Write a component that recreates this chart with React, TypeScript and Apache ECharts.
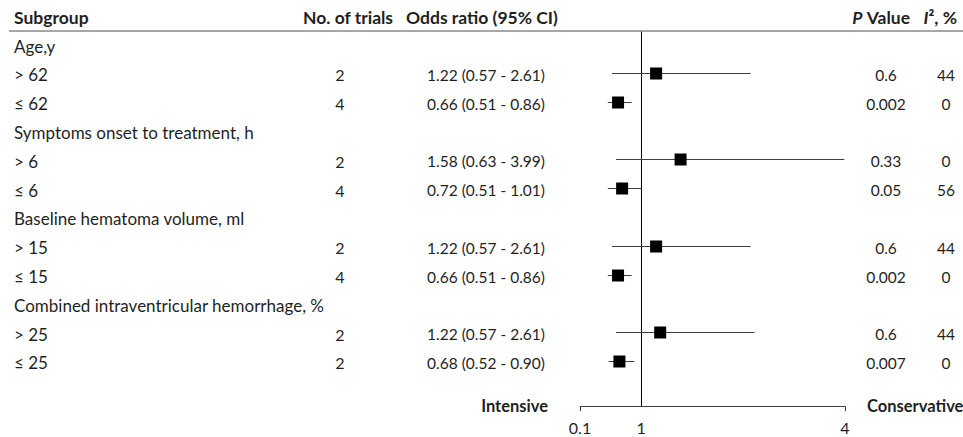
import React, { useEffect, useRef } from "react";
import * as echarts from "echarts";

// ---- data ----
const subgroups = [
  "Age,y",
  "> 62",
  "≤ 62",
  "Symptoms onset to treatment, h",
  "> 6",
  "≤ 6",
  "Baseline hematoma volume, ml",
  "> 15",
  "≤ 15",
  "Combined intraventricular hemorrhage, %",
  "> 25",
  "≤ 25",
];
const trials = ["", "2", "4", "", "2", "4", "", "2", "4", "", "2", "2"];
const ciText = [
  "",
  "1.22 (0.57 - 2.61)",
  "0.66 (0.51 - 0.86)",
  "",
  "1.58 (0.63 - 3.99)",
  "0.72 (0.51 - 1.01)",
  "",
  "1.22 (0.57 - 2.61)",
  "0.66 (0.51 - 0.86)",
  "",
  "1.22 (0.57 - 2.61)",
  "0.68 (0.52 - 0.90)",
];
const pValues = ["", "0.6", "0.002", "", "0.33", "0.05", "", "0.6", "0.002", "", "0.6", "0.007"];
const i2Values = ["", "44", "0", "", "0", "56", "", "44", "0", "", "44", "0"];
// plotted marks (as drawn in the figure)
const orPlot = [null, 1.22, 0.66, null, 1.58, 0.72, null, 1.22, 0.66, null, 1.28, 0.68];
const loPlot = [null, 0.57, 0.51, null, 0.63, 0.51, null, 0.57, 0.51, null, 0.63, 0.52];
const hiPlot = [null, 2.61, 0.86, null, 3.99, 1.01, null, 2.61, 0.86, null, 2.67, 0.9];
const axisLabels = [0.1, 1, 4];
const axisTickValues = [0.1, 4];
const nullValue = 1;

// ---- layout ----
const W = 963;
const H = 437;
const FONT = "Lato";
const TXT = "#1f1f1f";
const GRID_TOP = 31.6;
const GRID_BOTTOM = H - 406.2;
const PLOT_LEFT = 580;
const PLOT_WIDTH = 265;

const columns = [
  { key: "sub", x: 14, align: "left", size: 17, values: subgroups },
  { key: "trials", x: 340, align: "center", size: 16, values: trials },
  { key: "ci", x: 486, align: "center", size: 15.5, values: ciText },
  { key: "p", x: 886, align: "center", size: 15.5, values: pValues },
  { key: "i2", x: 946, align: "center", size: 15.5, values: i2Values },
];

export default function App() {
  const ref = useRef<HTMLDivElement>(null);

  useEffect(() => {
    document.body.style.margin = "0";
    const chart = echarts.init(ref.current!, undefined, { renderer: "svg" });
    const cats = [...subgroups.map((_, i) => String(i)), "axis"];

    const forestData: number[][] = [];
    orPlot.forEach((v, i) => {
      if (v != null) forestData.push([loPlot[i] as number, hiPlot[i] as number, v, i]);
    });

    const textSeries = columns.map((col) => {
      const data: number[][] = [];
      col.values.forEach((t, i) => {
        if (t !== "") data.push([col.x, i]);
      });
      return {
        type: "custom",
        name: col.key,
        xAxisIndex: 0,
        yAxisIndex: 0,
        silent: true,
        data,
        encode: { x: 0, y: 1 },
        renderItem: (params: any, api: any) => {
          const row = api.value(1) as number;
          const p = api.coord([api.value(0), row]);
          return {
            type: "text",
            x: p[0],
            y: p[1],
            style: {
              text: col.values[row],
              fill: TXT,
              font: `${col.size}px ${FONT}`,
              align: col.align,
              verticalAlign: "middle",
            },
          };
        },
      };
    });

    const boldHeader = (text: string, x: number, align: string, size: number, y = 17) => ({
      type: "text",
      x,
      y,
      style: {
        text,
        fill: TXT,
        font: `bold ${size}px ${FONT}`,
        align,
        verticalAlign: "middle",
        rich: { i: { fontStyle: "italic", fontWeight: "bold", fontSize: size, fontFamily: FONT, fill: TXT } },
      },
    });

    const option: any = {
      animation: false,
      textStyle: { fontFamily: FONT },
      grid: [
        { left: 0, width: W, top: GRID_TOP, bottom: GRID_BOTTOM },
        { left: PLOT_LEFT, width: PLOT_WIDTH, top: GRID_TOP, bottom: GRID_BOTTOM },
      ],
      xAxis: [
        { type: "value", gridIndex: 0, min: 0, max: W, show: false },
        {
          type: "value",
          gridIndex: 1,
          min: 0.1,
          max: 4,
          axisLine: { show: true, onZero: false, lineStyle: { color: "#404040", width: 1 } },
          axisTick: {
            show: true,
            inside: false,
            length: 5,
            customValues: axisTickValues,
            lineStyle: { color: "#404040" },
          },
          axisLabel: {
            show: true,
            customValues: axisLabels,
            formatter: (v: number) => String(v),
            margin: 13,
            color: TXT,
            fontSize: 16,
            fontFamily: FONT,
          },
          splitLine: { show: false },
        },
      ],
      yAxis: [
        { type: "category", gridIndex: 0, data: cats, inverse: true, show: false },
        { type: "category", gridIndex: 1, data: cats, inverse: true, show: false },
      ],
      series: [
        ...textSeries,
        {
          type: "custom",
          name: "nullLine",
          xAxisIndex: 1,
          yAxisIndex: 1,
          silent: true,
          data: [[nullValue, 0]],
          encode: { x: 0, y: 1 },
          renderItem: (params: any, api: any) => {
            const p = api.coord([api.value(0), 0]);
            const cs = params.coordSys;
            const x = Math.round(p[0]) + 0.5;
            return {
              type: "line",
              shape: { x1: x, y1: cs.y, x2: x, y2: cs.y + cs.height },
              style: { stroke: "#000", lineWidth: 1 },
            };
          },
        },
        {
          type: "custom",
          name: "forest",
          xAxisIndex: 1,
          yAxisIndex: 1,
          silent: true,
          data: forestData,
          encode: { x: 2, y: 3 },
          renderItem: (params: any, api: any) => {
            const row = api.value(3);
            const a = api.coord([api.value(0), row]);
            const b = api.coord([api.value(1), row]);
            const c = api.coord([api.value(2), row]);
            const y = Math.round(c[1]) - 1.5;
            return {
              type: "group",
              children: [
                {
                  type: "line",
                  shape: { x1: a[0], y1: y, x2: b[0], y2: y },
                  style: { stroke: "#404040", lineWidth: 1 },
                },
                {
                  type: "rect",
                  shape: { x: c[0] - 6, y: y - 6, width: 12, height: 12 },
                  style: { fill: "#000" },
                },
              ],
            };
          },
        },
      ],
      graphic: [
        {
          type: "line",
          shape: { x1: 9, y1: 31, x2: W, y2: 31 },
          style: { stroke: "#a6a6a6", lineWidth: 2 },
        },
        boldHeader("Subgroup", 14, "left", 17.5),
        boldHeader("No. of trials", 348, "center", 17.5),
        boldHeader("Odds ratio (95% CI)", 406, "left", 17.5),
        boldHeader("{i|P} Value", 910, "right", 17.5),
        boldHeader("{i|I}², %", 957, "right", 17.5),
        boldHeader("Intensive", 548, "right", 16.5, 406),
        boldHeader("Conservative", 867, "left", 16.5, 406),
      ],
    };

    chart.setOption(option);
    return () => chart.dispose();
  }, []);

  return (
    <div
      ref={ref}
      style={{ position: "absolute", left: 0, top: 0, width: W, height: H, background: "#fff" }}
    />
  );
}
